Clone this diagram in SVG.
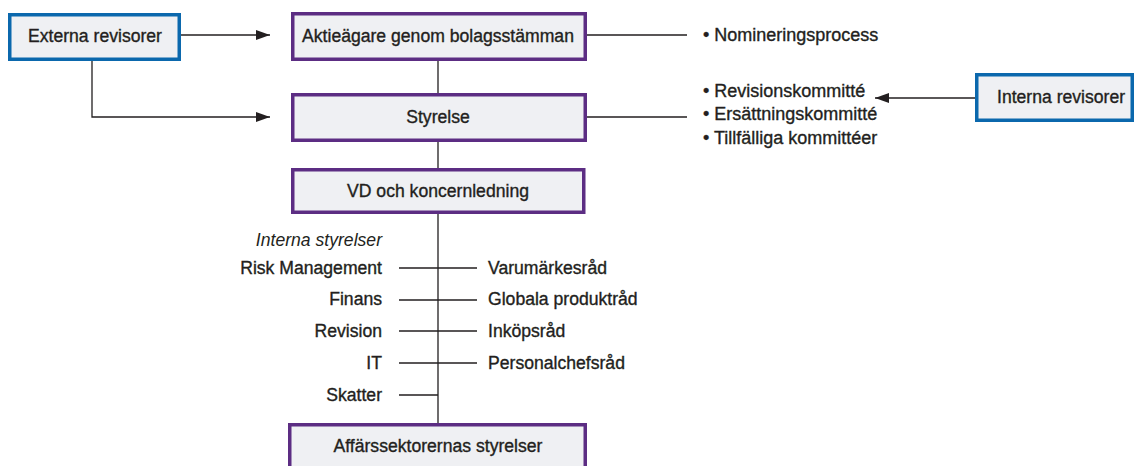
<svg xmlns="http://www.w3.org/2000/svg" width="1138" height="466" viewBox="0 0 1138 466">
  <defs>
    <marker id="arrow" markerUnits="userSpaceOnUse" markerWidth="14" markerHeight="10" refX="14" refY="5" orient="auto">
      <path d="M0,0 L14,5 L0,10 Z" fill="#231f20"/>
    </marker>
    <style>
      .box-p { fill: #eff0f3; stroke: #5c2d83; stroke-width: 3.5; }
      .box-b { fill: #eff0f3; stroke: #0b68ad; stroke-width: 3.5; }
      .t { font-family: "Liberation Sans", Arial, sans-serif; font-size: 17.6px; fill: #231f20; stroke: #231f20; stroke-width: 0.35; }
      .c { text-anchor: middle; }
      .r { text-anchor: end; }
      .i { font-style: italic; stroke-width: 0; }
      .b { font-size: 18px; }
      .ln { stroke: #231f20; stroke-width: 1.3; fill: none; }
    </style>
  </defs>
  <rect width="1138" height="466" fill="#ffffff"/>

  <!-- connectors -->
  <g id="connectors">
    <path class="ln" d="M181,35 H270" marker-end="url(#arrow)"/>
    <path class="ln" d="M92,61 V117 H270" marker-end="url(#arrow)"/>
    <path class="ln" d="M975,98 H875" marker-end="url(#arrow)"/>
    <path class="ln" d="M438,61 V93 M438,142 V168 M438,214 V423"/>
    <path class="ln" d="M587,35 H687 M587,117 H687"/>
    <path class="ln" d="M399,268 H477 M399,300 H477 M399,331 H477 M399,363 H477 M399,395 H438"/>
  </g>

  <!-- nodes -->
  <g id="externa-revisorer">
    <rect class="box-b" x="9.75" y="14.75" width="169.5" height="44.5"/>
    <text class="t c" x="95" y="42">Externa revisorer</text>
  </g>
  <g id="aktieagare">
    <rect class="box-p" x="292.75" y="13.75" width="292.5" height="45.5"/>
    <text class="t c" x="438" y="42">Aktieägare genom bolagsstämman</text>
  </g>
  <g id="styrelse">
    <rect class="box-p" x="292.75" y="94.75" width="292.5" height="45.5"/>
    <text class="t c" x="438" y="123">Styrelse</text>
  </g>
  <g id="vd">
    <rect class="box-p" x="292.75" y="169.75" width="291" height="42.5"/>
    <text class="t c" x="438" y="197">VD och koncernledning</text>
  </g>
  <g id="affarssektorer">
    <rect class="box-p" x="289.75" y="424.75" width="295.5" height="60"/>
    <text class="t c" x="438" y="452">Affärssektorernas styrelser</text>
  </g>
  <g id="interna-revisorer">
    <rect class="box-b" x="976.75" y="74.75" width="155.5" height="45.5"/>
    <text class="t" x="997" y="103">Interna revisorer</text>
  </g>

  <!-- committees -->
  <g id="nominering">
    <text class="t b" x="703" y="41">• Nomineringsprocess</text>
  </g>
  <g id="kommitteer">
    <text class="t b" x="703" y="97">• Revisionskommitté</text>
    <text class="t b" x="703" y="120">• Ersättningskommitté</text>
    <text class="t b" x="703" y="144">• Tillfälliga kommittéer</text>
  </g>

  <!-- internal boards -->
  <g id="interna-styrelser">
    <text class="t r i" x="382" y="246">Interna styrelser</text>
    <text class="t r" x="382" y="274">Risk Management</text>
    <text class="t r" x="382" y="305">Finans</text>
    <text class="t r" x="382" y="337">Revision</text>
    <text class="t r" x="382" y="369">IT</text>
    <text class="t r" x="382" y="401">Skatter</text>
    <text class="t" x="488" y="274">Varumärkesråd</text>
    <text class="t" x="488" y="305">Globala produktråd</text>
    <text class="t" x="488" y="337">Inköpsråd</text>
    <text class="t" x="488" y="369">Personalchefsråd</text>
  </g>
</svg>
